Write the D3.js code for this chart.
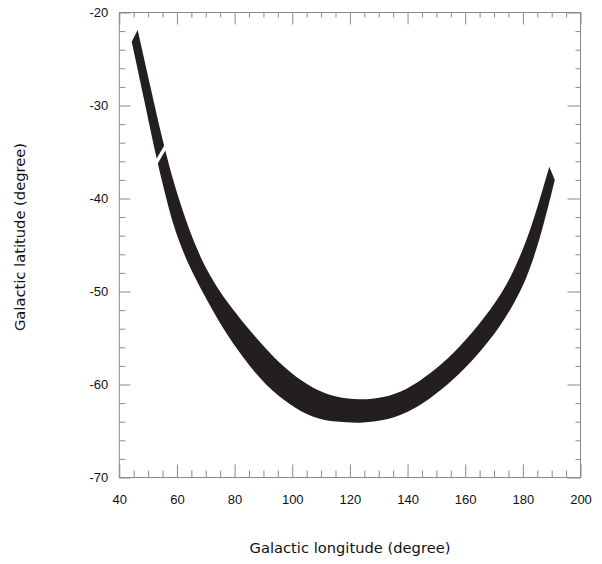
<!DOCTYPE html>
<html>
<head>
<meta charset="utf-8">
<script src="https://cdn.jsdelivr.net/npm/d3@7/dist/d3.min.js"></script>
<style>
  html, body { margin: 0; padding: 0; background: #fff; }
  svg { display: block; }
  text { fill: #111; }
</style>
</head>
<body>
<svg id="chart" width="602" height="564"></svg>
<script>
// ---- data ----
const xMajorTicks = [40, 60, 80, 100, 120, 140, 160, 180, 200];
const yMajorTicks = [-70, -60, -50, -40, -30, -20];
const xTitle = "Galactic longitude (degree)";
const yTitle = "Galactic latitude (degree)";

// inner (upper) edge of the band, from the upper-left end to the right end
const innerLon = [46.38, 50.82, 55.26, 59.25, 63.04, 66.44, 69.73, 73.03, 76.84, 83.61, 91.14, 99.22, 107.30, 115.18, 123.51, 131.48, 139.71, 147.79, 155.87, 164.44, 173.22, 177.97, 183.07, 189.18];
const innerLat = [-21.88, -28.01, -34.14, -38.73, -42.31, -45.11, -47.33, -49.09, -50.91, -53.60, -56.29, -58.76, -60.48, -61.40, -61.67, -61.45, -60.59, -58.87, -56.72, -53.76, -50.05, -47.04, -43.12, -36.58];
// outer (lower) edge of the band
const outerLon = [44.30, 48.57, 52.73, 55.85, 58.18, 61.06, 64.28, 70.32, 75.80, 82.91, 91.14, 99.22, 107.30, 115.18, 123.51, 131.48, 139.71, 147.79, 155.87, 163.75, 172.42, 179.01, 183.17, 187.09, 191.08];
const outerLat = [-23.14, -29.30, -35.51, -39.41, -42.31, -44.89, -47.33, -50.91, -53.92, -57.15, -60.24, -62.20, -63.63, -64.03, -64.17, -63.92, -63.10, -61.56, -59.52, -57.04, -53.71, -50.19, -47.04, -43.03, -38.01];
// white break across the band
const gapLon = [52.70, 56.24];
const gapLat = [-36.20, -34.35];

// ---- layout ----
const svg = d3.select("#chart");
const L = 119.3, R = 580.5, T = 12.5, B = 477.5;
const x = d3.scaleLinear().domain([40, 200]).range([L, R]);
const y = d3.scaleLinear().domain([-70, -20]).range([B, T]);

const xMinor = d3.range(40, 201, 5).filter(v => v % 20 !== 0);
const yMinor = d3.range(-70, -19, 2).filter(v => v % 10 !== 0);

const axisColor = "#8a8a8a";
const fmt = d => String(d);

function styleAxis(g) {
  g.select(".domain").remove();
  g.selectAll(".tick line").attr("stroke", axisColor).attr("stroke-width", 1);
  g.selectAll(".tick text")
    .style("font-family", "'Liberation Sans', Arial, sans-serif")
    .style("font-size", "13px").attr("fill", "#111");
}

// bottom
svg.append("g").attr("transform", `translate(0,${B})`)
  .call(d3.axisBottom(x).tickValues(xMajorTicks).tickSize(-13).tickPadding(17).tickFormat(fmt))
  .call(styleAxis);
svg.append("g").attr("transform", `translate(0,${B})`)
  .call(d3.axisBottom(x).tickValues(xMinor).tickSize(-7).tickFormat(""))
  .call(styleAxis);
// top
svg.append("g").attr("transform", `translate(0,${T})`)
  .call(d3.axisTop(x).tickValues(xMajorTicks).tickSize(-12).tickFormat(""))
  .call(styleAxis);
svg.append("g").attr("transform", `translate(0,${T})`)
  .call(d3.axisTop(x).tickValues(xMinor).tickSize(-5).tickFormat(""))
  .call(styleAxis);
// left
svg.append("g").attr("transform", `translate(${L},0)`)
  .call(d3.axisLeft(y).tickValues(yMajorTicks).tickSize(-11).tickPadding(11).tickFormat(fmt))
  .call(styleAxis);
svg.append("g").attr("transform", `translate(${L},0)`)
  .call(d3.axisLeft(y).tickValues(yMinor).tickSize(-6).tickFormat(""))
  .call(styleAxis);
// right
svg.append("g").attr("transform", `translate(${R},0)`)
  .call(d3.axisRight(y).tickValues(yMajorTicks).tickSize(-13).tickFormat(""))
  .call(styleAxis);
svg.append("g").attr("transform", `translate(${R},0)`)
  .call(d3.axisRight(y).tickValues(yMinor).tickSize(-5).tickFormat(""))
  .call(styleAxis);

// frame
svg.append("rect").attr("x", L).attr("y", T).attr("width", R - L).attr("height", B - T)
  .attr("fill", "none").attr("stroke", axisColor).attr("stroke-width", 1);

// ---- band ----
const inner = innerLon.map((v, i) => [v, innerLat[i]]);
const outer = outerLon.map((v, i) => [v, outerLat[i]]);
const line = d3.line().x(d => x(d[0])).y(d => y(d[1])).curve(d3.curveBasis);
const outerPath = line(outer);
const innerPath = line(inner.slice().reverse());
svg.append("path")
  .attr("d", outerPath + "L" + innerPath.slice(1) + "Z")
  .attr("fill", "#231f20").attr("stroke", "none");

// gap
svg.append("line")
  .attr("x1", x(gapLon[0])).attr("y1", y(gapLat[0]))
  .attr("x2", x(gapLon[1])).attr("y2", y(gapLat[1]))
  .attr("stroke", "#fff").attr("stroke-width", 3.5);

// ---- titles ----
svg.append("text").attr("x", 350).attr("y", 553).attr("text-anchor", "middle")
  .style("font-family", "'DejaVu Sans', sans-serif")
  .style("font-size", "14.7px").text(xTitle);
svg.append("text").attr("transform", "translate(24.5,237) rotate(-90)").attr("text-anchor", "middle")
  .style("font-family", "'DejaVu Sans', sans-serif")
  .style("font-size", "14.7px").text(yTitle);
</script>
</body>
</html>
